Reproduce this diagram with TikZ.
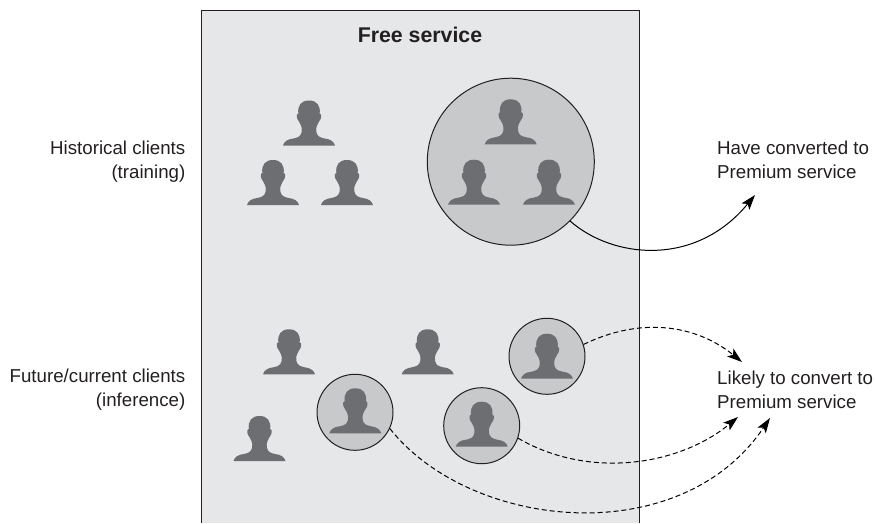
\documentclass[tikz,border=0pt]{standalone}
\usepackage{fontspec}
\setmainfont{Liberation Sans}
\usetikzlibrary{arrows.meta}
\definecolor{panelc}{HTML}{E6E7E9}
\definecolor{ringc}{HTML}{C8C9CB}
\definecolor{personc}{HTML}{6D6E71}
\definecolor{inkc}{HTML}{231F20}
\tikzset{
  x=1pt,y=-1pt,
  lbl/.style={font=\fontsize{18.7}{24}\selectfont,text=inkc,inner sep=0pt,align=center},
  lblr/.style={lbl,align=left,anchor=west},
  lbll/.style={lbl,align=right,anchor=east},
  ring/.style={circle,draw=inkc,line width=1pt,fill=ringc,inner sep=0pt,minimum size=#1},
  solidcon/.style={draw=black,line width=1pt,-{Stealth[length=15pt,width=10pt,inset=3.5pt]}},
  dashcon/.style={solidcon,dash pattern=on 5pt off 3pt},
  person/.pic={
    \fill[personc] (-26,0)
      .. controls (-25,-4) and (-21,-6.5) .. (-15.7,-7)
      .. controls (-11,-8) and (-8.5,-9) .. (-7.5,-13)
      .. controls (-7,-16) and (-7,-18) .. (-8,-20)
      .. controls (-9,-22) and (-10,-24) .. (-10.7,-25)
      .. controls (-12,-26) and (-12.5,-30) .. (-12,-31)
      -- (-10.7,-32)
      .. controls (-11.5,-40) and (-8,-45) .. (0,-45)
      .. controls (8,-45) and (11.5,-40) .. (10.7,-32)
      -- (12,-31)
      .. controls (12.5,-30) and (12,-26) .. (10.7,-25)
      .. controls (10,-24) and (9,-22) .. (8,-20)
      .. controls (7,-18) and (7,-16) .. (7.5,-13)
      .. controls (8.5,-9) and (11,-8) .. (15.7,-7)
      .. controls (21,-6.5) and (25,-4) .. (26,0)
      -- cycle;
  }
}
\begin{document}
\begin{tikzpicture}
\useasboundingbox (0,0) rectangle (875,523);
% panel
\fill[panelc] (201,10) rectangle (639,523);
\draw[draw=inkc,line width=1pt] (201,523) -- (201,10) -- (639,10) -- (639,523);
\node[lbl,font=\fontsize{21.3}{24}\selectfont\bfseries] (title) at (420,35) {Free service};
% circles
\node[ring=167pt] (big) at (510.8,161.7) {};
\node[ring=76pt] (ca) at (547,356.3) {};
\node[ring=76pt] (cb) at (481.7,425.7) {};
\node[ring=76pt] (cc) at (355,412.3) {};
% people
\foreach \px/\py in {309/145.5,273/205,347/205,510.7/144.3,474/204.7,549/204.7,
  289/374.3,427.7/374.3,259.5/461,547/378.7,481.7/446.7,355.3/433.3}
  \pic at (\px,\py) {person};
% labels
\node[lbll] (hist) at (185.5,162) {Historical clients\\(training)};
\node[lbll] (fut) at (185.5,390) {Future/current clients\\(inference)};
\node[lblr] (have) at (717,160) {Have converted to\\Premium service};
\node[lblr] (likely) at (717,390) {Likely to convert to\\Premium service};
% arrow ends
\coordinate (e0) at (755,195);
\coordinate (e1) at (742,362);
\coordinate (e2) at (738,417);
\coordinate (e3) at (770,418);
% connectors
\draw[solidcon] (big.-45) .. controls (612,258) and (695,268) .. (e0);
\draw[dashcon] (ca.18) .. controls (640,317) and (695,324) .. (e1);
\draw[dashcon] (cb.-19) .. controls (590,480) and (680,465) .. (e2);
\draw[dashcon] (cc.-25) .. controls (470,530) and (680,552) .. (e3);
\end{tikzpicture}
\end{document}
